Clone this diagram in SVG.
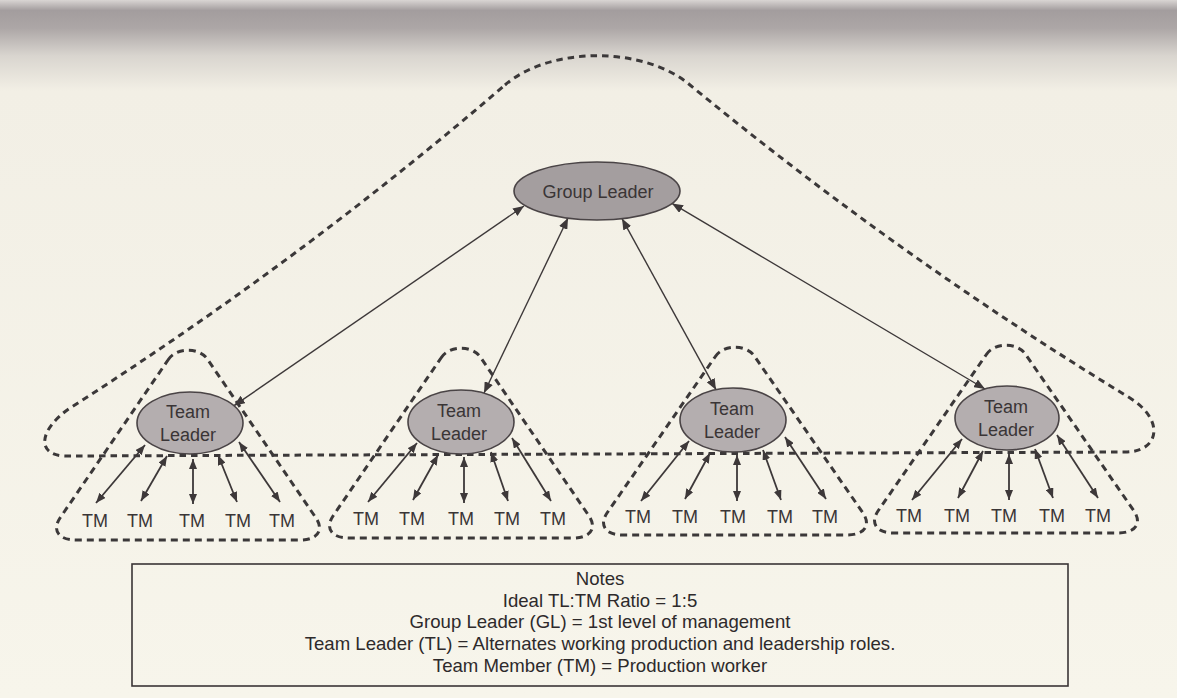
<svg xmlns="http://www.w3.org/2000/svg" width="1177" height="698" viewBox="0 0 1177 698">
  <defs>
    <linearGradient id="bg" x1="0" y1="0" x2="0" y2="1">
      <stop offset="0" stop-color="#d9d5d3"/>
      <stop offset="0.015" stop-color="#a39d9e"/>
      <stop offset="0.04" stop-color="#aca6a6"/>
      <stop offset="0.08" stop-color="#d9d5cf"/>
      <stop offset="0.13" stop-color="#f2efe5"/>
      <stop offset="1" stop-color="#f7f5eb"/>
    </linearGradient>
    <marker id="ah" markerUnits="userSpaceOnUse" markerWidth="11" markerHeight="9" refX="11" refY="4.5" orient="auto-start-reverse">
      <path d="M0,0 L11,4.5 L0,9 z" fill="#3d3839"/>
    </marker>
    <marker id="ahs" markerUnits="userSpaceOnUse" markerWidth="10" markerHeight="8" refX="10" refY="4" orient="auto-start-reverse">
      <path d="M0,0 L10,4 L0,8 z" fill="#3d3839"/>
    </marker>
  </defs>
  <style>
    .bnd { fill: none; stroke: #3b3839; stroke-width: 3; stroke-dasharray: 7 5; }
    .gl { fill: #a49e9f; stroke: #4a4446; stroke-width: 1.6; }
    .tl { fill: #b4aeaf; stroke: #4a4446; stroke-width: 1.6; }
    .lbl { font-family: "Liberation Sans", Arial, sans-serif; font-size: 18px; fill: #3a3536; text-anchor: middle; }
    .arr { stroke: #3d3839; stroke-width: 1.4; fill: none; marker-start: url(#ah); marker-end: url(#ah); }
    .arr2 { stroke: #3d3839; stroke-width: 1.8; fill: none; marker-start: url(#ahs); marker-end: url(#ahs); }
    .note { font-family: "Liberation Sans", Arial, sans-serif; font-size: 18.6px; fill: #2e2a2b; text-anchor: middle; }
  </style>

  <rect x="0" y="0" width="1177" height="698" fill="url(#bg)"/>

  <g id="boundaries">
    <path id="group-boundary" class="bnd" style="stroke-dasharray: 6.5 5" d="M505 85 C550 46 644 46 690 85 Q899 257 1130 398 C1165 420 1160 452 1125 452 L66 456 C36 456 38 430 70 408 Q299 262 505 85 Z"/>
    <path id="team1-boundary" class="bnd" d="M168 360 C176 347 200 347 208 360 L316 518 C324 530 318 540 300 540 L76 540 C58 540 52 530 60 518 Z"/>
    <path id="team2-boundary" class="bnd" d="M441 358 C449 345 473 345 481 358 L589 516 C597 528 591 538 573 538 L349 538 C331 538 325 528 333 516 Z"/>
    <path id="team3-boundary" class="bnd" d="M715 357 C723 344 747 344 755 357 L863 513 C871 525 865 535 847 535 L623 535 C605 535 599 525 607 513 Z"/>
    <path id="team4-boundary" class="bnd" d="M986 355 C994 342 1018 342 1026 355 L1134 511 C1142 523 1136 533 1118 533 L894 533 C876 533 870 523 878 511 Z"/>
  </g>

  <g id="connectors">
    <line class="arr" x1="524" y1="206" x2="234" y2="405.7"/>
    <line class="arr" x1="568" y1="218" x2="484" y2="393"/>
    <line class="arr" x1="622" y1="218.6" x2="716" y2="389.7"/>
    <line class="arr" x1="672" y1="203.4" x2="985" y2="389"/>

    <line class="arr2" x1="145" y1="445" x2="96" y2="503"/>
    <line class="arr2" x1="167" y1="456" x2="141" y2="501"/>
    <line class="arr2" x1="193" y1="459" x2="193" y2="504"/>
    <line class="arr2" x1="218" y1="455" x2="237" y2="502"/>
    <line class="arr2" x1="239" y1="442" x2="280" y2="502"/>

    <line class="arr2" x1="417" y1="443" x2="368" y2="502"/>
    <line class="arr2" x1="438" y1="455" x2="413" y2="500"/>
    <line class="arr2" x1="464" y1="457" x2="464" y2="503"/>
    <line class="arr2" x1="491" y1="452" x2="508" y2="501"/>
    <line class="arr2" x1="512" y1="438" x2="551" y2="501"/>

    <line class="arr2" x1="689" y1="441" x2="641" y2="501"/>
    <line class="arr2" x1="710" y1="453" x2="685" y2="499"/>
    <line class="arr2" x1="737" y1="455" x2="737" y2="501"/>
    <line class="arr2" x1="763" y1="450" x2="781" y2="500"/>
    <line class="arr2" x1="785" y1="437" x2="826" y2="499"/>

    <line class="arr2" x1="962" y1="439" x2="912" y2="500"/>
    <line class="arr2" x1="983" y1="451" x2="958" y2="498"/>
    <line class="arr2" x1="1009" y1="454" x2="1009" y2="500"/>
    <line class="arr2" x1="1035" y1="449" x2="1053" y2="498"/>
    <line class="arr2" x1="1057" y1="435" x2="1098" y2="498"/>
  </g>

  <g id="group-leader">
    <ellipse class="gl" cx="597" cy="191" rx="83" ry="29"/>
    <text class="lbl" x="598" y="197.5">Group Leader</text>
  </g>

  <g id="team-leader-1">
    <ellipse class="tl" cx="190" cy="423" rx="53" ry="31"/>
    <text class="lbl" x="188" y="418">Team</text>
    <text class="lbl" x="188" y="441">Leader</text>
  </g>
  <g id="team-leader-2">
    <ellipse class="tl" cx="461" cy="422" rx="53" ry="32"/>
    <text class="lbl" x="459" y="417">Team</text>
    <text class="lbl" x="459" y="440">Leader</text>
  </g>
  <g id="team-leader-3">
    <ellipse class="tl" cx="733" cy="420" rx="53" ry="32"/>
    <text class="lbl" x="732" y="415">Team</text>
    <text class="lbl" x="732" y="438">Leader</text>
  </g>
  <g id="team-leader-4">
    <ellipse class="tl" cx="1007" cy="418" rx="52" ry="32"/>
    <text class="lbl" x="1006" y="413">Team</text>
    <text class="lbl" x="1006" y="436">Leader</text>
  </g>

  <g id="tm-1-1"><text class="lbl" x="95" y="527">TM</text></g>
  <g id="tm-1-2"><text class="lbl" x="140" y="527">TM</text></g>
  <g id="tm-1-3"><text class="lbl" x="192" y="527">TM</text></g>
  <g id="tm-1-4"><text class="lbl" x="238" y="527">TM</text></g>
  <g id="tm-1-5"><text class="lbl" x="282" y="527">TM</text></g>

  <g id="tm-2-1"><text class="lbl" x="366" y="525">TM</text></g>
  <g id="tm-2-2"><text class="lbl" x="412" y="525">TM</text></g>
  <g id="tm-2-3"><text class="lbl" x="461" y="525">TM</text></g>
  <g id="tm-2-4"><text class="lbl" x="507" y="525">TM</text></g>
  <g id="tm-2-5"><text class="lbl" x="553" y="525">TM</text></g>

  <g id="tm-3-1"><text class="lbl" x="638" y="523">TM</text></g>
  <g id="tm-3-2"><text class="lbl" x="685" y="523">TM</text></g>
  <g id="tm-3-3"><text class="lbl" x="733" y="523">TM</text></g>
  <g id="tm-3-4"><text class="lbl" x="780" y="523">TM</text></g>
  <g id="tm-3-5"><text class="lbl" x="825" y="523">TM</text></g>

  <g id="tm-4-1"><text class="lbl" x="909" y="522">TM</text></g>
  <g id="tm-4-2"><text class="lbl" x="957" y="522">TM</text></g>
  <g id="tm-4-3"><text class="lbl" x="1004" y="522">TM</text></g>
  <g id="tm-4-4"><text class="lbl" x="1052" y="522">TM</text></g>
  <g id="tm-4-5"><text class="lbl" x="1098" y="522">TM</text></g>

  <g id="notes">
    <rect x="132" y="564" width="936" height="122" fill="none" stroke="#3a3536" stroke-width="1.6"/>
    <text class="note" x="600" y="585">Notes</text>
    <text class="note" x="600" y="607">Ideal TL:TM Ratio = 1:5</text>
    <text class="note" x="600" y="628">Group Leader (GL) = 1st level of management</text>
    <text class="note" x="600" y="650">Team Leader (TL) = Alternates working production and leadership roles.</text>
    <text class="note" x="600" y="672">Team Member (TM) = Production worker</text>
  </g>
</svg>
